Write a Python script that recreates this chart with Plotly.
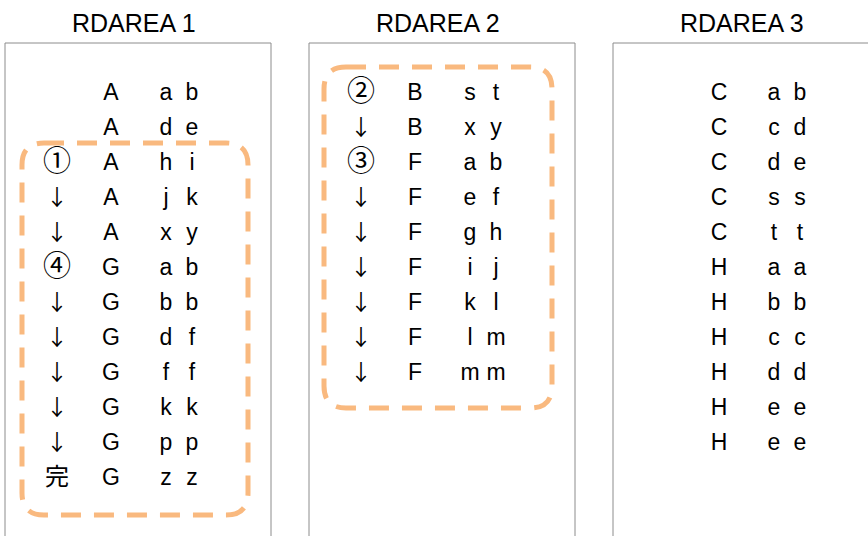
import plotly.graph_objects as go

# ---- data ----
area_titles = ["RDAREA 1", "RDAREA 2", "RDAREA 3"]

area1_marks = ["", "", "①", "↓", "↓", "④", "↓", "↓", "↓", "↓", "↓", "完"]
area1_keys = ["A", "A", "A", "A", "A", "G", "G", "G", "G", "G", "G", "G"]
area1_vals = ["ab", "de", "hi", "jk", "xy", "ab", "bb", "df", "ff", "kk", "pp", "zz"]

area2_marks = ["②", "↓", "③", "↓", "↓", "↓", "↓", "↓", "↓"]
area2_keys = ["B", "B", "F", "F", "F", "F", "F", "F", "F"]
area2_vals = ["st", "xy", "ab", "ef", "gh", "ij", "kl", "lm", "mm"]

area3_marks = [""] * 11
area3_keys = ["C", "C", "C", "C", "C", "H", "H", "H", "H", "H", "H"]
area3_vals = ["ab", "cd", "de", "ss", "tt", "aa", "bb", "cc", "dd", "ee", "ee"]

areas = [
    (area1_marks, area1_keys, area1_vals),
    (area2_marks, area2_keys, area2_vals),
    (area3_marks, area3_keys, area3_vals),
]

# ---- layout constants ----
W, H = 868, 536
box_left = [5, 309, 613]
box_w = 266
box_top = 43
row0 = 94
row_step = 35
col_mark, col_key, col_v1, col_v2 = 52, 106, 161, 187
LATIN = "Liberation Sans, Arial, sans-serif"
CJK = "Noto Sans CJK JP, sans-serif"
FS = 23
ORANGE = "#F9B97F"


def mark_size(m):
    if m == "↓":
        return 22
    if m == "完":
        return 24
    return 28


fig = go.Figure()
shapes = []
annotations = []

for i, (marks, keys, vals) in enumerate(areas):
    left = box_left[i]
    shapes.append(dict(type="rect", xref="x", yref="y", x0=left, x1=left + box_w,
                       y0=box_top, y1=H + 20, line=dict(color="#8c8c8c", width=1),
                       fillcolor="rgba(0,0,0,0)", layer="below"))
    annotations.append(dict(x=left + box_w / 2 - 4, y=23, xref="x", yref="y",
                            text=area_titles[i], showarrow=False,
                            font=dict(family=LATIN, size=25, color="#000"),
                            xanchor="center", yanchor="middle"))
    ys = [row0 + r * row_step for r in range(len(keys))]
    for xs_off, texts, fam, size in [
        (col_mark, marks, CJK, [mark_size(m) for m in marks]),
        (col_key, keys, LATIN, FS),
        (col_v1, [v[0] for v in vals], LATIN, FS),
        (col_v2, [v[1] for v in vals], LATIN, FS),
    ]:
        fig.add_trace(go.Scatter(
            x=[left + xs_off] * len(texts), y=ys, text=texts, mode="text",
            textposition="middle center",
            textfont=dict(family=fam, size=size, color="#000"),
            hoverinfo="skip", showlegend=False))


def rounded_path(x0, y0, x1, y1, r):
    return (f"M {x0 + r},{y0} L {x1 - r},{y0} Q {x1},{y0} {x1},{y0 + r} "
            f"L {x1},{y1 - r} Q {x1},{y1} {x1 - r},{y1} L {x0 + r},{y1} "
            f"Q {x0},{y1} {x0},{y1 - r} L {x0},{y0 + r} Q {x0},{y0} {x0 + r},{y0} Z")


for (x0, y0, x1, y1) in [(22, 143, 248, 515), (324, 67, 552, 408)]:
    shapes.append(dict(type="path", xref="x", yref="y",
                       path=rounded_path(x0, y0, x1, y1, 22),
                       line=dict(color=ORANGE, width=5, dash="20px,13px")))

fig.update_layout(
    width=W, height=H,
    margin=dict(l=0, r=0, t=0, b=0),
    paper_bgcolor="white", plot_bgcolor="white",
    xaxis=dict(range=[0, W], visible=False, fixedrange=True),
    yaxis=dict(range=[H, 0], visible=False, fixedrange=True),
    shapes=shapes, annotations=annotations,
)

fig.write_html("out.html", config={"displayModeBar": False},
               post_script="document.body.style.margin='0';document.body.style.overflow='hidden';")
